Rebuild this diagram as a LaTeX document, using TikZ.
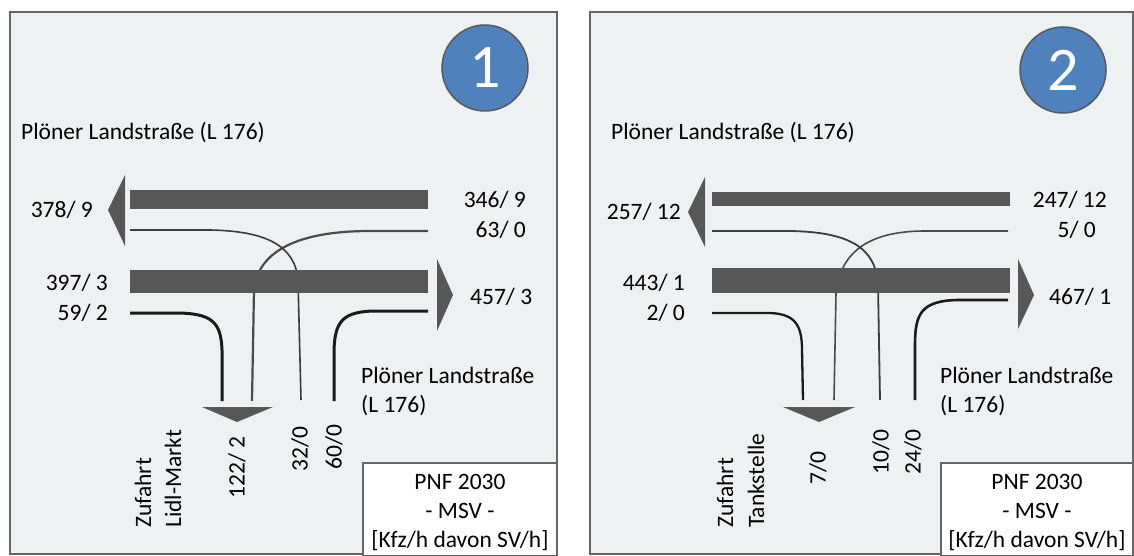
\documentclass[tikz,border=0pt]{standalone}
\usepackage{fontspec}
\setmainfont{Carlito}
\definecolor{panelbg}{HTML}{EEF1F1}
\definecolor{framegray}{HTML}{666666}
\definecolor{bargray}{HTML}{575757}
\definecolor{flowblack}{HTML}{1A1A1A}
\definecolor{flowgray}{HTML}{4A4A4A}
\definecolor{nrblue}{HTML}{4F81BD}

\begin{document}
\begin{tikzpicture}[x=1pt, y=-1pt,
    txt/.style={font=\fontsize{23.5}{29}\selectfont, inner sep=0pt},
    panelframe/.style={fill=panelbg, draw=framegray, line width=2.5pt},
    nrcircle/.style={circle, fill=nrblue, draw=black!65, line width=1.5pt, minimum size=86pt,
        text=white, font=\fontsize{62}{62}\selectfont},
    flowbar/.style={fill=bargray},
    bigflow/.style={draw=flowblack, line width=3pt},
    midflow/.style={draw=flowgray, line width=2.2pt},
    smallflow/.style={draw=flowblack!85, line width=1.6pt},
    legendbox/.style={fill=white, draw=framegray, line width=1.5pt}]
    \useasboundingbox (0,0) rectangle (1134,556);
    \fill[white] (0,0) rectangle (1134,556);

    % Panel 1
    \filldraw[panelframe] (10,12) rectangle (557,554);
    \node[nrcircle] (nr1) at (485,68) {1};
    \node[txt, anchor=west] (road1) at (21,133) {Plöner Landstraße (L 176)};

    % turning flows
    \draw[midflow] (428,231) -- (370,231) .. controls (300,231) and (258,250) .. (254,290) -- (252,401);
    \draw[smallflow] (130,230) -- (210,230) .. controls (265,231) and (295,245) .. (298,280) -- (301,400);
    \draw[bigflow] (130,313) -- (175,313) .. controls (212,313) and (221,322) .. (222,350) -- (222,401);
    \draw[bigflow] (428,311) -- (377,311) .. controls (342,311) and (335,322) .. (334,350) -- (334,401);

    % through bars and arrow heads
    \fill[flowbar] (130,190) rectangle (428,209);
    \fill[flowbar] (125,175) -- (108,210) -- (125,246) -- cycle;
    \fill[flowbar] (130,270) rectangle (428,293);
    \fill[flowbar] (437,259) -- (453,295) -- (437,331) -- cycle;
    \fill[flowbar] (202,407) -- (273,407) -- (237,422) -- cycle;

    % volumes
    \node[txt, anchor=east] (w1out) at (93,210) {378/ 9};
    \node[txt, anchor=east] (w1in) at (526,200) {346/ 9};
    \node[txt, anchor=east] (w1lt) at (526,230) {63/ 0};
    \node[txt, anchor=east] (e1in) at (108,283) {397/ 3};
    \node[txt, anchor=east] (e1rt) at (108,313) {59/ 2};
    \node[txt, anchor=west] (e1out) at (470,297) {457/ 3};
    \node[txt, anchor=west, align=left] (road1b) at (361,391) {Plöner Landstraße\\(L 176)};
    \node[txt, anchor=west, rotate=90] (acc1a) at (143,528) {Zufahrt};
    \node[txt, anchor=west, rotate=90] (acc1b) at (173,528) {Lidl-Markt};
    \node[txt, anchor=east, rotate=90] (s1in) at (237,436) {122/ 2};
    \node[txt, anchor=east, rotate=90] (s1lt) at (300,426) {32/0};
    \node[txt, anchor=east, rotate=90] (s1rt) at (334,424) {60/0};

    % legend
    \filldraw[legendbox] (363,463) rectangle (557,556);
    \node[txt, align=center] (leg1) at (460,512) {PNF 2030\\- MSV -\\{[Kfz/h davon SV/h]}};

    % Panel 2
    \filldraw[panelframe] (590,12) rectangle (1133,554);
    \node[nrcircle] (nr2) at (1063,70) {2};
    \node[txt, anchor=west] (road2) at (611,133) {Plöner Landstraße (L 176)};

    % turning flows
    \draw[smallflow, draw=flowgray] (1008,231) -- (925,231) .. controls (865,231) and (840,255) .. (836,293) -- (834,400);
    \draw[smallflow, line width=1.8pt] (712,231) -- (790,231) .. controls (850,232) and (876,248) .. (878,285) -- (880,400);
    \draw[bigflow, line width=2.3pt] (712,313) -- (770,313) .. controls (795,314) and (802,325) .. (802,350) -- (803,400);
    \draw[bigflow, line width=2.6pt] (1008,300) -- (960,300) .. controls (920,300) and (915,315) .. (915,345) -- (915,400);

    % through bars and arrow heads
    \fill[flowbar] (712,192) rectangle (1010,206);
    \fill[flowbar] (705,177) -- (688,212) -- (705,247) -- cycle;
    \fill[flowbar] (712,268) rectangle (1010,293);
    \fill[flowbar] (1018,259) -- (1034,295) -- (1018,329) -- cycle;
    \fill[flowbar] (783,407) -- (855,407) -- (819,422) -- cycle;

    % volumes
    \node[txt, anchor=east] (w2out) at (681,212) {257/ 12};
    \node[txt, anchor=east] (w2in) at (1107,200) {247/ 12};
    \node[txt, anchor=east] (w2lt) at (1096,230) {5/ 0};
    \node[txt, anchor=east] (e2in) at (685,283) {443/ 1};
    \node[txt, anchor=east] (e2rt) at (685,313) {2/ 0};
    \node[txt, anchor=west] (e2out) at (1049,297) {467/ 1};
    \node[txt, anchor=west, align=left] (road2b) at (940,391) {Plöner Landstraße\\(L 176)};
    \node[txt, anchor=west, rotate=90] (acc2a) at (725,528) {Zufahrt};
    \node[txt, anchor=west, rotate=90] (acc2b) at (756,528) {Tankstelle};
    \node[txt, anchor=east, rotate=90] (s2in) at (818,451) {7/0};
    \node[txt, anchor=east, rotate=90] (s2lt) at (881,429) {10/0};
    \node[txt, anchor=east, rotate=90] (s2rt) at (913,429) {24/0};

    % legend
    \filldraw[legendbox] (941,463) rectangle (1133,556);
    \node[txt, align=center] (leg2) at (1037,512) {PNF 2030\\- MSV -\\{[Kfz/h davon SV/h]}};
\end{tikzpicture}
\end{document}
